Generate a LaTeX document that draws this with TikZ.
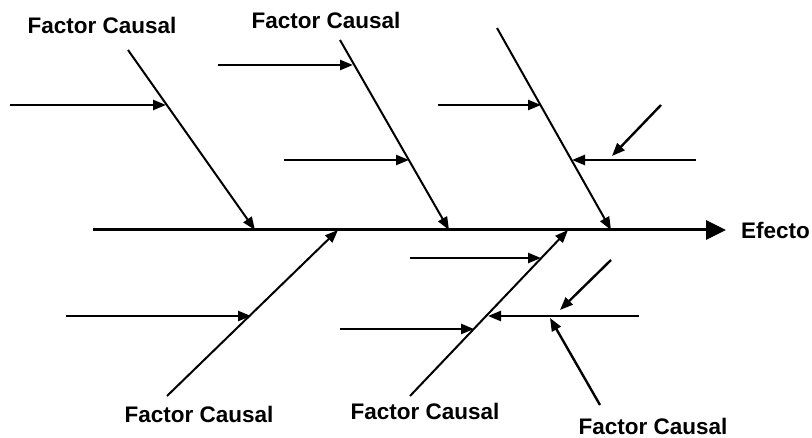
\documentclass[tikz,border=0pt]{standalone}
\usepackage{fontspec}
\setmainfont{Liberation Sans}
\usetikzlibrary{arrows.meta}
\begin{document}
\begin{tikzpicture}[x=1pt,y=-1pt,
  bone/.style={line width=2pt,-{Triangle[length=13pt,width=10pt]}},
  sub/.style={line width=2.4pt,-{Triangle[length=13pt,width=10pt]}},
  spinestyle/.style={line width=3pt,-{Triangle[length=20pt,width=19pt]}},
  lbl/.style={font=\bfseries\fontsize{22.5}{26}\selectfont,inner sep=0pt}]
\useasboundingbox (0,0) rectangle (812,438);
% spine
\coordinate (s0) at (93,230);
\node[lbl,anchor=west] (eff) at (741,230) {Efecto};
\coordinate (s1) at (726,230);
\draw[spinestyle] (s0) -- (s1);
% labels
\node[lbl] (l1) at (102,25) {Factor Causal};
\node[lbl] (l2) at (326,20) {Factor Causal};
\node[lbl] (l3) at (199,414) {Factor Causal};
\node[lbl] (l4) at (425,411) {Factor Causal};
\node[lbl] (l5) at (653,426) {Factor Causal};
% top bone 1
\coordinate (a0) at (128,50); \coordinate (a1) at (255,230);
\draw[bone] (a0) -- (a1);
\coordinate (a2) at (10,105); \coordinate (a3) at (166,105);
\draw[sub] (a2) -- (a3);
% top bone 2
\coordinate (b0) at (340,40); \coordinate (b1) at (449,230);
\draw[bone] (b0) -- (b1);
\coordinate (b2) at (218,65); \coordinate (b3) at (353,65);
\draw[sub] (b2) -- (b3);
\coordinate (b4) at (284,160); \coordinate (b5) at (409,160);
\draw[sub] (b4) -- (b5);
% top bone 3
\coordinate (c0) at (497,28); \coordinate (c1) at (611,230);
\draw[bone] (c0) -- (c1);
\coordinate (c2) at (438,105); \coordinate (c3) at (541,105);
\draw[sub] (c2) -- (c3);
\coordinate (c4) at (696,160); \coordinate (c5) at (572,160);
\draw[sub] (c4) -- (c5);
\coordinate (c6) at (661,105); \coordinate (c7) at (612,156);
\draw[sub] (c6) -- (c7);
% bottom bone 1
\coordinate (d0) at (167,396); \coordinate (d1) at (338,230);
\draw[bone] (d0) -- (d1);
\coordinate (d2) at (66,316); \coordinate (d3) at (251,316);
\draw[sub] (d2) -- (d3);
% bottom bone 2
\coordinate (e0) at (410,396); \coordinate (e1) at (568,230);
\draw[bone] (e0) -- (e1);
\coordinate (e2) at (410,258); \coordinate (e3) at (541,258);
\draw[sub] (e2) -- (e3);
\coordinate (e4) at (340,329); \coordinate (e5) at (474,329);
\draw[sub] (e4) -- (e5);
\coordinate (e6) at (639,316); \coordinate (e7) at (488,316);
\draw[sub] (e6) -- (e7);
\coordinate (e8) at (611,260); \coordinate (e9) at (560,310);
\draw[sub] (e8) -- (e9);
\coordinate (e10) at (600,405); \coordinate (e11) at (550,318);
\draw[sub] (e10) -- (e11);
\end{tikzpicture}
\end{document}
